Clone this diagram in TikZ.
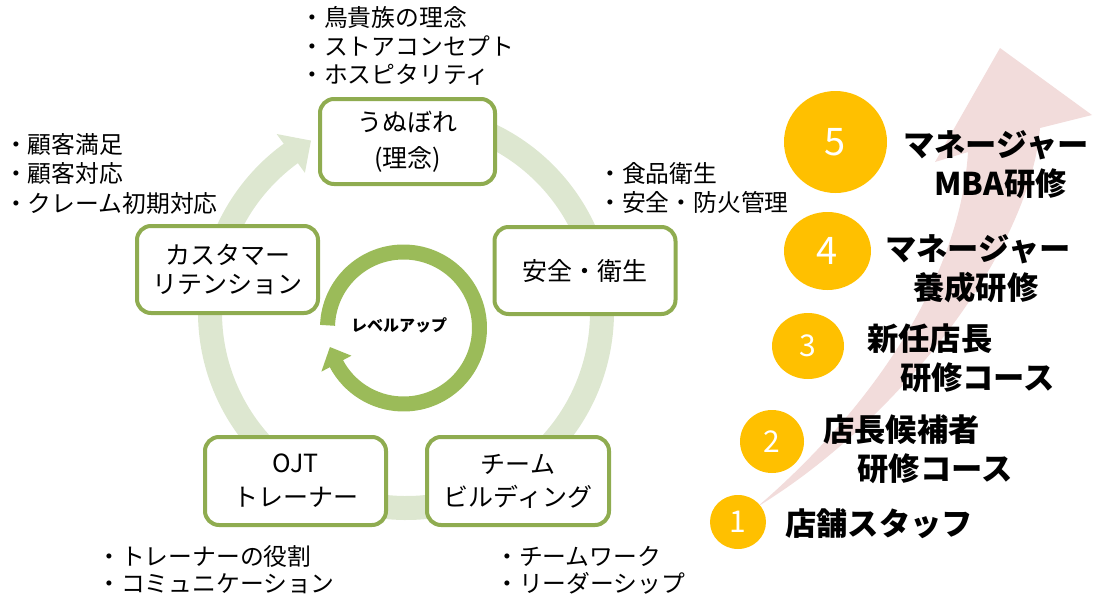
\documentclass[tikz,border=0pt]{standalone}
\usepackage{fontspec}
\setmainfont{Noto Sans CJK JP}
\usetikzlibrary{calc,shapes.geometric}
\definecolor{ringc}{RGB}{221,231,208}
\definecolor{boxg}{RGB}{143,172,80}
\definecolor{lvg}{RGB}{155,187,89}
\definecolor{pinkc}{RGB}{242,220,219}
\definecolor{yel}{RGB}{255,192,0}
\begin{document}
\begin{tikzpicture}[x=1pt,y=-1pt,
  stagebox/.style={draw=boxg, line width=4pt, rounded corners=14pt, fill=white, inner sep=0pt,
    align=center, font=\fontsize{25}{32}\selectfont, minimum width=181pt, minimum height=87pt},
  bullets/.style={anchor=west, align=left, inner sep=0pt, font=\fontsize{23.8}{28.5}\selectfont},
  stepnum/.style={ellipse, fill=yel, text=white, inner sep=0pt},
  steptext/.style={anchor=west, align=left, inner sep=0pt, font=\fontsize{31.3}{39}\selectfont\bfseries}
]
\useasboundingbox (0,0) rectangle (1093,597);

% pink growth arrow
\fill[pinkc] (757,507) .. controls (870,410) and (960,280) .. (968,152) -- (935,162) -- (1000,48)
  -- (1092,115) -- (1040,128) .. controls (1030,250) and (900,420) .. (757,507) -- cycle;

% big cycle ring
\coordinate (C) at (406,312);
\draw[ringc, line width=24pt] (C) ++(-85:196) arc[start angle=-85, end angle=234.5, radius=196];
\fill[ringc] ($(C)+(234:172)$) -- ($(C)+(234:220)$) -- ($(C)+(241:196)$) -- cycle;

% stage boxes
\node[stagebox, minimum width=175pt, minimum height=85pt, font=\fontsize{25}{36}\selectfont] (philo) at (407.5,141.5) {うぬぼれ\\(理念)};
\node[stagebox, font=\fontsize{25}{29.5}\selectfont] (retention) at (227.5,269.5) {カスタマー\\リテンション};
\node[stagebox] (safety) at (585,270.5) {安全・衛生};
\node[stagebox, minimum height=88pt, font=\fontsize{25}{34}\selectfont] (ojt) at (295.5,481) {OJT\\トレーナー};
\node[stagebox, minimum width=182pt, minimum height=88pt, font=\fontsize{25}{33}\selectfont] (team) at (518,481) {チーム\\ビルディング};

% level-up ring
\coordinate (L) at (403.5,328);
\draw[lvg, line width=15pt] (L) ++(-178:76) arc[start angle=-178, end angle=152.5, radius=76];
\fill[lvg] ($(L)+(152:59)$) -- ($(L)+(152:93)$) -- ($(L)+(165.5:76)$) -- cycle;
\node[font=\fontsize{16}{18}\selectfont\bfseries, inner sep=0pt] (lvup) at (399,325) {レベルアップ};

% bullet lists
\node[bullets] (b1) at (300,46) {・鳥貴族の理念\\・ストアコンセプト\\・ホスピタリティ};
\node[bullets, font=\fontsize{23.8}{29.5}\selectfont] (b2) at (4,174) {・顧客満足\\・顧客対応\\・クレーム初期対応};
\node[bullets] (b3) at (598,188) {・食品衛生\\・安全・防火管理};
\node[bullets, font=\fontsize{23.8}{27}\selectfont] (b4) at (97,570) {・トレーナーの役割\\・コミュニケーション};
\node[bullets, font=\fontsize{23.8}{27}\selectfont] (b5) at (495,570) {・チームワーク\\・リーダーシップ};

% steps
\node[stepnum, minimum width=103pt, minimum height=102pt, font=\fontsize{38}{40}\selectfont] (n5) at (835.5,142) {5};
\node[stepnum, minimum width=87pt, minimum height=78pt, font=\fontsize{38}{40}\selectfont] (n4) at (827.5,251) {4};
\node[stepnum, minimum width=72pt, minimum height=66pt, font=\fontsize{30}{32}\selectfont] (n3) at (808,346) {3};
\node[stepnum, minimum width=64pt, minimum height=63pt, font=\fontsize{30}{32}\selectfont] (n2) at (772,441.5) {2};
\node[stepnum, minimum width=56pt, minimum height=54pt, font=\fontsize{30}{32}\selectfont] (n1) at (738,522) {1};

\node[steptext] (t5) at (903,165) {マネージャー\\\hspace*{1em}MBA研修};
\node[steptext] (t4) at (885,269) {マネージャー\\\hspace*{0.9em}養成研修};
\node[steptext] (t3) at (867,358.5) {新任店長\\\hspace*{1.05em}研修コース};
\node[steptext] (t2) at (823,449) {店長候補者\\\hspace*{1.1em}研修コース};
\node[steptext] (t1) at (785,524) {店舗スタッフ};
\end{tikzpicture}
\end{document}
